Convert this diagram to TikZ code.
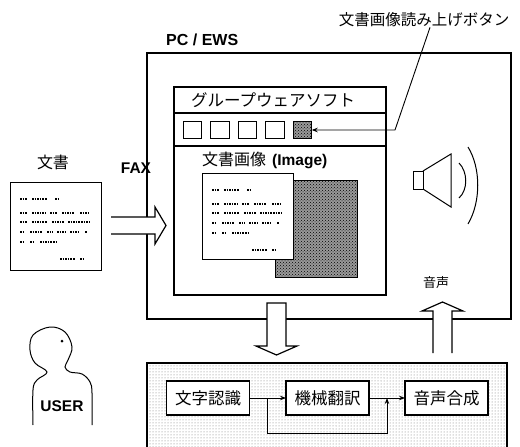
\documentclass[tikz,border=0pt]{standalone}
\usepackage{fontspec}
\setmainfont{Liberation Sans}
\newfontfamily\jpfont{Noto Sans CJK JP}
\usetikzlibrary{arrows.meta, patterns, calc}

\tikzset{
  box/.style={draw, line width=1.2pt, inner sep=0pt, outer sep=0pt},
  jplabel/.style={font=\jpfont\fontsize{16}{18}\selectfont, inner sep=0pt},
  latlabel/.style={font=\fontsize{15.5}{17}\selectfont\bfseries, inner sep=0pt},
  procbox/.style={box, fill=white, minimum width=83pt, minimum height=34pt,
    font=\jpfont\fontsize{16.5}{18}\selectfont},
  flow/.style={line width=0.9pt, -{Stealth[length=6pt, width=4.5pt]}},
  hollow/.style={draw, line width=1.2pt, fill=white, line join=miter},
  wordline/.style={line width=1.5pt, dash pattern=on 1.5pt off 1.1pt},
  btnbox/.style={box, line width=1pt, minimum width=18.5pt, minimum height=16.5pt},
  scanned/.style={preaction={fill=black!40}, pattern=crosshatch dots},
}

% rows of dotted "words" on a page, placed from its top left corner
\newcommand{\dottext}[1]{%
  \begin{scope}[shift={(#1)}]
    \foreach \a/\b/\y in {10/17/17, 22/37/17, 45/50/17,
        10/17/31, 22/36/31, 40/47/31, 52/65/31, 70/79/31,
        10/17/40, 22/37/40, 42/54/40, 58/79/40,
        10/15/50, 20/33/50, 37/43/50, 47/56/50, 60/70/50, 75/77/50,
        10/15/60, 20/25/60, 30/47/60,
        50/65/77, 70/75/77}
      \draw[wordline] (\a,\y) -- (\b,\y);
  \end{scope}}

\begin{document}
\begin{tikzpicture}[x=1pt, y=-1pt]
  \useasboundingbox (0,0) rectangle (520,447);

  % processing engine (runs off the bottom edge)
  \node[box, pattern=dots, pattern color=black!55, minimum width=360pt,
        minimum height=97pt] (eng) at (327,411.5) {};
  \node[procbox] (moji)  at (208,398)   {文字認識};
  \node[procbox] (kikai) at (327.5,398) {機械翻訳};
  \node[procbox] (onsei) at (446.5,398) {音声合成};

  \coordinate (split) at ($(moji.east)!0.5!(kikai.west)$);
  \coordinate (merge) at ($(kikai.east)!0.5!(onsei.west)$);
  \draw[flow] (moji) -- (kikai);
  \draw[flow] (kikai) -- (onsei);
  \draw[flow] (split) -- ++(0,35) -| (merge);

  % PC / EWS frame
  \node[box, minimum width=364pt, minimum height=266pt] (pc) at (329,186) {};
  \node[latlabel, font=\fontsize{16}{18}\selectfont\bfseries, anchor=west]
    (pclabel) at (166,40) {PC / EWS};

  % groupware window
  \node[box, minimum width=212pt, minimum height=208pt] (gw) at (280,191) {};
  \draw[line width=1.2pt] (174,113) -- (386,113);
  \draw[line width=1.2pt] (174,146) -- (386,146);
  \node[jplabel, font=\jpfont\fontsize{16.5}{18}\selectfont, anchor=west]
    (gwtitle) at (191,100) {グループウェアソフト};

  \foreach \i in {1,...,4}
    \node[btnbox] (btn\i) at ({192.5+27.5*(\i-1)},130) {};
  \node[btnbox, scanned] (btn5) at (302.5,130) {};

  \node[anchor=west, inner sep=0pt] (imglabel) at (202,160)
    {{\jpfont\fontsize{16}{18}\selectfont 文書画像}\hspace{6pt}\fontsize{15.5}{17}\selectfont\bfseries(Image)};

  % document image: scanned page behind, text page in front
  \node[box, line width=1pt, scanned, minimum width=82pt,
        minimum height=97pt] (imgback) at (316,228.5) {};
  \node[box, line width=1pt, fill=white, minimum width=91pt,
        minimum height=86pt] (imgpage) at (247.5,216) {};
  \dottext{imgpage.north west}

  % read-aloud button callout
  \node[jplabel, font=\jpfont\fontsize{15.5}{18}\selectfont] (btnlabel) at (424,20)
    {文書画像読み上げボタン};
  \coordinate (bend) at (395,130);
  \draw[flow] ([xshift=6pt]btnlabel.south) -- (bend) -- (btn5.east);

  % speaker
  \draw[line width=1pt] (413,171) rectangle (423,189);
  \draw[line width=1pt, line join=miter] (423,171) -- (451,154) -- (451,207) -- (423,189);
  \draw[line width=1pt] (459,163) .. controls (468,172) and (468,190) .. (459,198);
  \draw[line width=1pt] (468,147) .. controls (481,168) and (481,202) .. (468,224);

  % paper document coming in by fax
  \node[jplabel] (doclabel) at (53,162) {文書};
  \node[box, line width=1pt, minimum width=91pt, minimum height=88pt] (doc) at (55.5,226) {};
  \dottext{doc.north west}
  \node[latlabel] (faxlabel) at (136,168) {FAX};

  % hollow transfer arrows
  \filldraw[hollow] (111,217) -- (155,217) -- (155,207) -- (166,225.5)
    -- (155,244) -- (155,234) -- (111,234);
  \filldraw[hollow] (267,303) -- (286,303) -- (286,346) -- (297,346)
    -- (276.5,355) -- (256,346) -- (267,346) -- cycle;
  \filldraw[hollow] (433,353) -- (433,311) -- (422,311) -- (442.5,302)
    -- (463,311) -- (452,311) -- (452,353);
  \node[jplabel, font=\jpfont\fontsize{13}{15}\selectfont] (voicelabel) at (436,283) {音声};

  % user
  \draw[line width=1pt] plot[smooth, tension=0.6] coordinates {
    (33,425) (33,390) (37,380) (47,372) (35,363) (30,350) (33,335) (50,327)
    (65,332) (72,347) (68,360) (65,367) (70,372) (82,374) (90,382) (92,393) (92,425)};
  \fill (62,341) circle (1.5);
  \node[latlabel] (user) at (62,406) {USER};
\end{tikzpicture}
\end{document}
